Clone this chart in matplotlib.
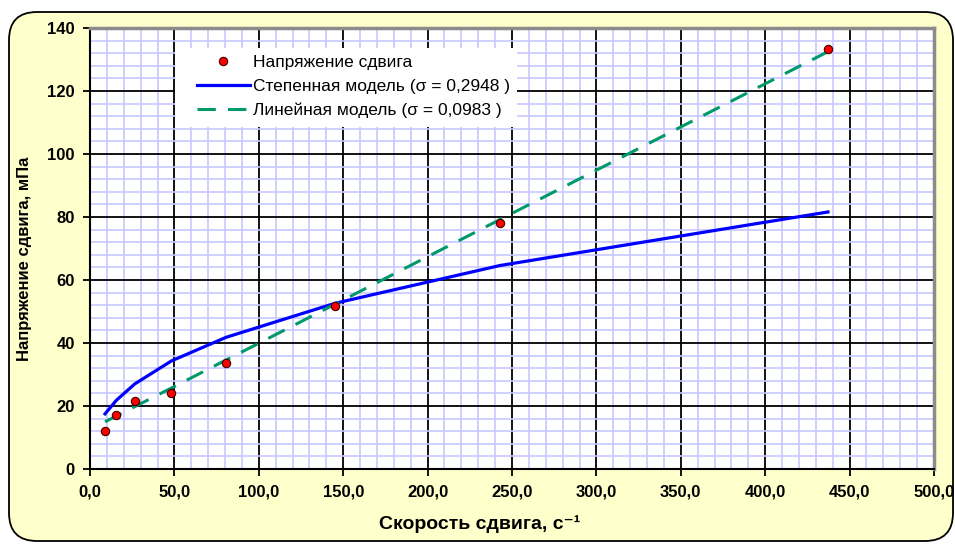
import matplotlib
matplotlib.use("Agg")
import matplotlib.pyplot as plt
import matplotlib.patches as mpatches
from matplotlib.ticker import MultipleLocator, FuncFormatter

plt.rcParams['font.family'] = ['Liberation Sans', 'DejaVu Sans']

# shear rate, 1/s
shear_rate = [8.9, 15.6, 26.5, 48.2, 80.6, 145.1, 242.9, 437.2]
# measured shear stress, mPa
stress = [12.2, 17.2, 21.6, 24.1, 33.5, 51.9, 78.1, 133.2]
# model curves at the same shear rates
power_model = [17.5, 21.8, 27.0, 34.3, 41.8, 52.6, 64.6, 81.6]
linear_model = [15.0, 16.8, 19.8, 25.7, 34.6, 52.3, 79.2, 132.5]

lbl_points = "Напряжение сдвига"
lbl_power = "Степенная модель (σ = 0,2948 )"
lbl_linear = "Линейная модель (σ = 0,0983 )"

fig = plt.figure(figsize=(9.55, 5.44), dpi=100, facecolor="white")

# rounded yellow chart frame (display pixels)
frame = mpatches.FancyBboxPatch((9, 3), 944, 529,
                                boxstyle="round,pad=0,rounding_size=28",
                                transform=None, facecolor="#FFFFCC",
                                edgecolor="black", linewidth=1.3, zorder=-10)
fig.patches.append(frame)

ax = fig.add_axes([90 / 955, 1 - 469 / 544, 844 / 955, 441 / 544])
ax.set_facecolor("white")

ax.set_xlim(0, 500)
ax.set_ylim(0, 140)
ax.xaxis.set_major_locator(MultipleLocator(50))
ax.xaxis.set_minor_locator(MultipleLocator(10))
ax.yaxis.set_major_locator(MultipleLocator(20))
ax.yaxis.set_minor_locator(MultipleLocator(4))
ax.xaxis.set_major_formatter(FuncFormatter(lambda v, p: f"{v:.1f}".replace(".", ",")))
ax.yaxis.set_major_formatter(FuncFormatter(lambda v, p: f"{v:.0f}"))

ax.grid(which="minor", color="#C8C8FF", linewidth=1.2, zorder=0)
ax.grid(which="major", color="black", linewidth=1.3, zorder=0.5)
ax.set_axisbelow(True)

ax.tick_params(which="minor", length=0)
ax.tick_params(which="major", direction="out", length=5, width=1.3,
               labelsize=12, pad=6)
for t in ax.get_xticklabels() + ax.get_yticklabels():
    t.set_fontweight("bold")

for s in ["left", "bottom"]:
    ax.spines[s].set_color("black")
    ax.spines[s].set_linewidth(1.5)
for s in ["top", "right"]:
    ax.spines[s].set_color("#8C8C8C")
    ax.spines[s].set_linewidth(2.5)

ax.plot(shear_rate, stress, linestyle="none", marker="o", markersize=6,
        markerfacecolor="#FF0000", markeredgecolor="#400000",
        markeredgewidth=0.8, label=lbl_points, zorder=4)
ax.plot(shear_rate, power_model, color="#0000FF", linewidth=2.3,
        label=lbl_power, zorder=3)
ax.plot(shear_rate, linear_model, color="#00996B", linewidth=2.2,
        dashes=(6, 4), label=lbl_linear, zorder=3)

# white legend background box
ax.add_patch(mpatches.Rectangle((0.1007, 0.7755), 0.405, 0.179,
                                transform=ax.transAxes, facecolor="white",
                                edgecolor="none", zorder=4.5))
leg = ax.legend(loc="upper left", bbox_to_anchor=(0.1268, 0.939),
                frameon=False, fontsize=12.5, handlelength=3.05,
                handletextpad=0.17, labelspacing=0.5, borderpad=0,
                borderaxespad=0)
leg.set_zorder(5)

ax.set_xlabel("Скорость сдвига, с⁻¹", fontsize=14,
              fontweight="bold", labelpad=8)
ax.xaxis.set_label_coords((480 - 90) / 844, -0.105)
ax.set_ylabel("Напряжение сдвига, мПа", fontsize=12, fontweight="bold")
ax.yaxis.set_label_coords(-0.069, (469 - 259) / 441)

plt.savefig("out.png", dpi=100, facecolor="white")
